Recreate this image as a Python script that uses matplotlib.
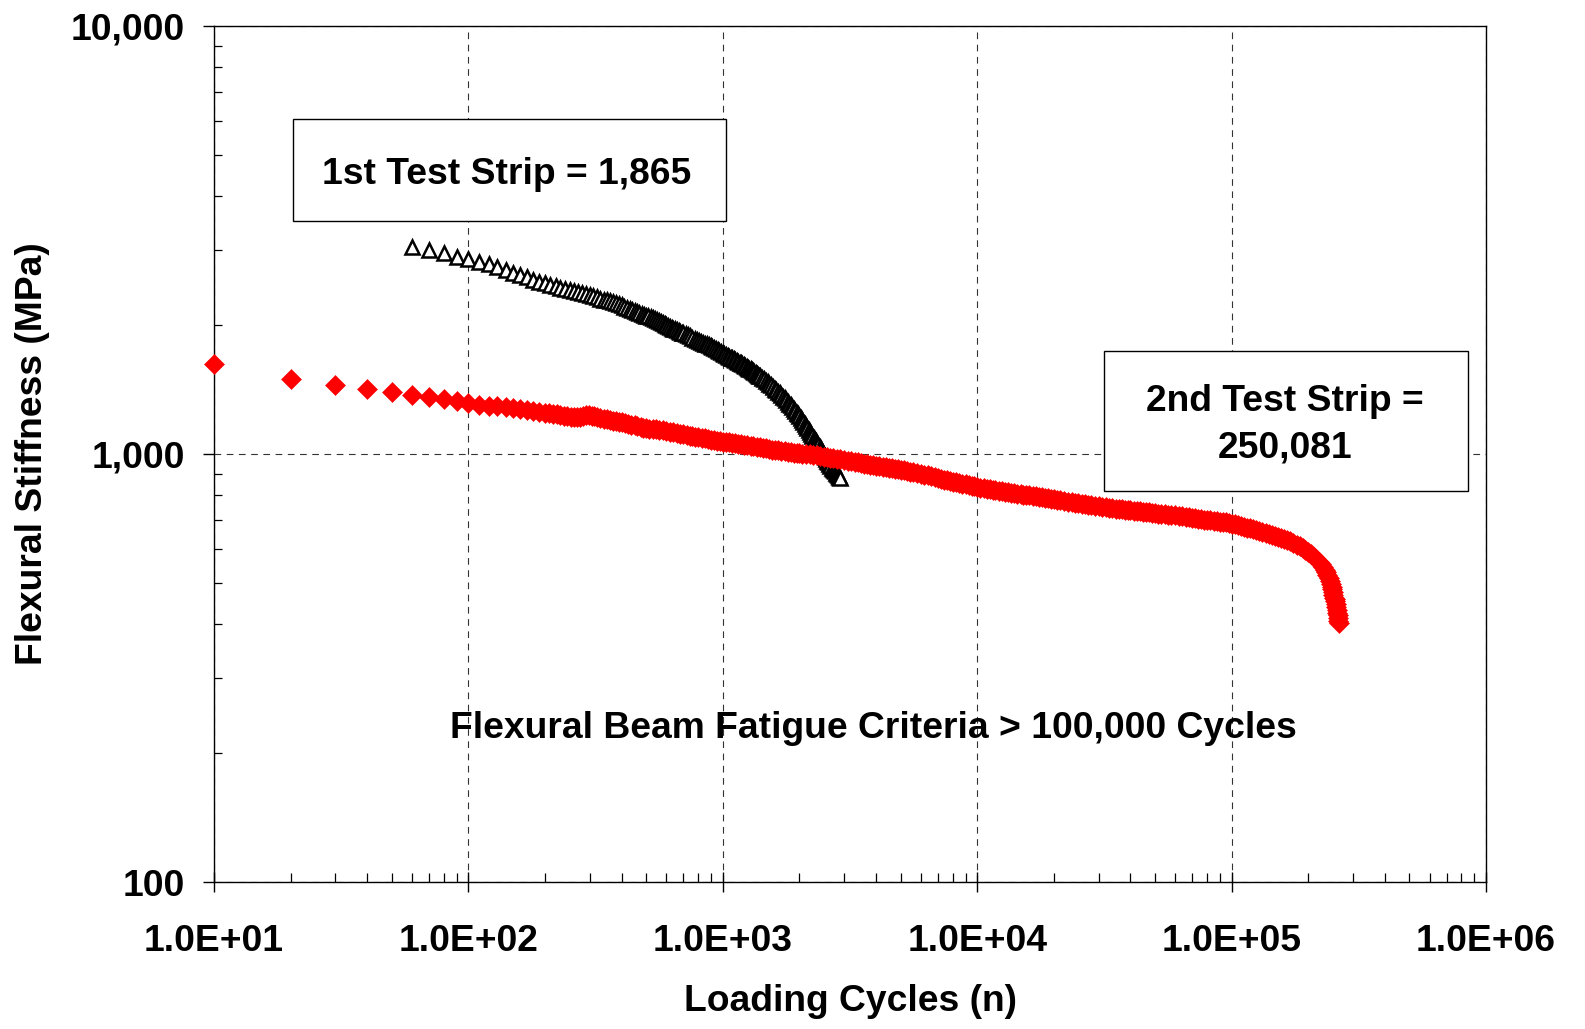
import matplotlib
matplotlib.use("Agg")
import matplotlib.pyplot as plt
from matplotlib.ticker import FuncFormatter, NullFormatter, LogLocator, FixedLocator
from matplotlib.patches import Rectangle

plt.rcParams['font.family'] = ['Liberation Sans', 'DejaVu Sans']
plt.rcParams['font.weight'] = 'bold'

# ---------------- data ----------------
strip1_cycles = [
    60, 70, 80, 90, 100, 110, 120, 130, 140, 150,
    160, 170, 180, 190, 200, 210, 220, 230, 240, 250,
    260, 270, 280, 290, 300, 310, 320, 330, 340, 350,
    360, 370, 380, 390, 400, 410, 420, 430, 440, 450,
    460, 470, 480, 490, 500, 510, 520, 530, 540, 550,
    560, 570, 580, 590, 600, 610, 620, 630, 640, 650,
    660, 670, 680, 690, 700, 715, 730, 745, 760, 775,
    790, 805, 820, 835, 850, 865, 880, 895, 910, 925,
    940, 955, 970, 985, 1000, 1015, 1030, 1045, 1060, 1075,
    1090, 1105, 1120, 1135, 1150, 1165, 1180, 1195, 1210, 1225,
    1240, 1255, 1270, 1285, 1300, 1315, 1330, 1345, 1360, 1375,
    1390, 1400, 1425, 1450, 1475, 1500, 1525, 1550, 1575, 1600,
    1625, 1650, 1675, 1700, 1725, 1750, 1775, 1800, 1825, 1850,
    1875, 1900, 1925, 1950, 1975, 2000, 2025, 2050, 2075, 2100,
    2125, 2150, 2175, 2200, 2225, 2250, 2275, 2300, 2325, 2350,
    2375, 2400, 2425, 2450, 2475, 2500, 2525, 2550, 2575, 2600,
    2625, 2650, 2675, 2700, 2725, 2750, 2775, 2800, 2825, 2850,
    2875, 2900]
strip1_stiffness = [
    3050, 2998, 2944, 2891, 2850, 2809, 2775, 2735, 2695, 2655,
    2620, 2585, 2550, 2528, 2508, 2488, 2468, 2448, 2428, 2415,
    2402, 2389, 2376, 2363, 2350, 2338, 2324, 2308, 2296, 2284,
    2272, 2260, 2248, 2236, 2224, 2210, 2196, 2184, 2172, 2161,
    2150, 2139, 2128, 2117, 2106, 2096, 2085, 2075, 2064, 2054,
    2044, 2034, 2024, 2014, 2004, 1993, 1982, 1971, 1962, 1954,
    1945, 1937, 1930, 1922, 1915, 1904, 1893, 1882, 1871, 1861,
    1851, 1841, 1831, 1821, 1812, 1803, 1794, 1785, 1777, 1768,
    1760, 1751, 1742, 1731, 1719, 1711, 1703, 1696, 1688, 1680,
    1673, 1665, 1658, 1650, 1643, 1635, 1628, 1620, 1613, 1606,
    1599, 1592, 1584, 1577, 1570, 1562, 1554, 1546, 1539, 1532,
    1525, 1520, 1508, 1495, 1483, 1471, 1458, 1446, 1434, 1422,
    1409, 1397, 1385, 1373, 1360, 1348, 1336, 1324, 1311, 1299,
    1287, 1275, 1262, 1250, 1237, 1225, 1212, 1200, 1187, 1174,
    1162, 1150, 1138, 1126, 1114, 1103, 1092, 1081, 1070, 1059,
    1048, 1037, 1026, 1015, 1003, 992, 982, 973, 964, 956,
    947, 938, 929, 921, 916, 911, 905, 900, 895, 890,
    885, 880]

strip2_cycles = [
    10, 20, 30, 40, 50, 60, 70, 80, 90, 100,
    110, 120, 130, 140, 150, 160, 170, 180, 190, 200,
    208, 215, 223, 230, 238, 245, 253, 260, 268, 275,
    283, 290, 298, 305, 313, 320, 330, 340, 350, 360,
    370, 380, 390, 400, 412, 425, 437, 450, 462, 475,
    487, 500, 515, 530, 545, 560, 580, 600, 620, 640,
    660, 680, 700, 720, 740, 760, 780, 800, 825, 850,
    875, 900, 925, 950, 975, 1000, 1030, 1060, 1090, 1120,
    1150, 1180, 1215, 1250, 1285, 1320, 1360, 1400, 1440, 1480,
    1520, 1560, 1600, 1650, 1700, 1750, 1800, 1850, 1900, 1950,
    2000, 2050, 2120, 2200, 2270, 2350, 2420, 2500, 2570, 2650,
    2720, 2800, 2900, 3000, 3100, 3200, 3300, 3400, 3500, 3600,
    3700, 3800, 3900, 4000, 4120, 4250, 4370, 4500, 4620, 4750,
    4870, 5000, 5150, 5300, 5450, 5600, 5800, 6000, 6200, 6400,
    6600, 6800, 7000, 7200, 7400, 7600, 7800, 8000, 8250, 8500,
    8750, 9000, 9250, 9500, 9750, 10000, 10300, 10600, 10900, 11200,
    11500, 11800, 12150, 12500, 12850, 13200, 13600, 14000, 14400, 14800,
    15200, 15600, 16000, 16500, 17000, 17500, 18000, 18500, 19000, 19500,
    20000, 20500, 21250, 22000, 22750, 23500, 24250, 25000, 25750, 26500,
    27250, 28000, 29000, 30000, 31000, 32000, 33000, 34000, 35000, 36000,
    37000, 38000, 39000, 40000, 41250, 42500, 43750, 45000, 46250, 47500,
    48750, 50000, 51500, 53000, 54500, 56000, 58000, 60000, 62000, 64000,
    66000, 68000, 70000, 72000, 74000, 76000, 78000, 80000, 82500, 85000,
    87500, 90000, 92500, 95000, 97500, 100000, 103000, 106000, 109000, 112000,
    115000, 118000, 121500, 125000, 128500, 132000, 136000, 140000, 144000, 148000,
    152000, 156000, 160500, 165000, 170000, 175000, 180000, 185000, 190000, 195000,
    200000, 205000, 210000, 215000, 220000, 225000, 228500, 232000, 235000, 238000,
    240500, 243000, 245000, 247000, 248500, 250000, 251500, 253000, 254500, 256000,
    257000, 258000, 259000, 260000, 261000, 262000, 263000, 263800]
strip2_stiffness = [
    1626, 1500, 1452, 1420, 1397, 1375, 1360, 1342, 1328, 1314,
    1305, 1298, 1292, 1286, 1279, 1272, 1266, 1261, 1256, 1250,
    1246, 1242, 1238, 1234, 1230, 1226, 1222, 1219, 1219, 1222,
    1227, 1231, 1232, 1230, 1225, 1220, 1214, 1208, 1204, 1200,
    1196, 1192, 1188, 1185, 1180, 1176, 1171, 1166, 1161, 1156,
    1153, 1150, 1147, 1145, 1142, 1140, 1136, 1132, 1128, 1124,
    1120, 1116, 1112, 1108, 1104, 1100, 1097, 1094, 1091, 1088,
    1084, 1081, 1078, 1075, 1072, 1069, 1066, 1064, 1061, 1059,
    1056, 1054, 1051, 1049, 1046, 1043, 1040, 1037, 1034, 1031,
    1027, 1024, 1022, 1020, 1017, 1015, 1012, 1010, 1008, 1006,
    1004, 1002, 1000, 998, 995, 992, 989, 986, 983, 980,
    977, 975, 971, 968, 965, 962, 959, 956, 953, 950,
    947, 945, 942, 940, 937, 934, 931, 929, 926, 924,
    921, 919, 916, 913, 910, 907, 903, 899, 895, 891,
    887, 883, 879, 875, 871, 868, 865, 862, 858, 855,
    852, 849, 846, 843, 840, 838, 835, 833, 830, 828,
    825, 823, 820, 818, 816, 814, 812, 810, 808, 806,
    804, 803, 801, 799, 797, 795, 793, 790, 788, 786,
    784, 782, 779, 777, 774, 772, 769, 767, 765, 763,
    761, 759, 756, 754, 752, 750, 748, 747, 745, 744,
    742, 741, 740, 739, 737, 736, 734, 733, 731, 730,
    729, 728, 726, 725, 723, 722, 721, 720, 718, 716,
    714, 712, 710, 708, 706, 705, 703, 702, 700, 698,
    696, 695, 693, 692, 690, 688, 685, 682, 679, 676,
    673, 670, 667, 664, 661, 658, 654, 651, 647, 644,
    640, 637, 633, 629, 625, 620, 614, 608, 603, 597,
    590, 583, 576, 568, 560, 552, 545, 537, 530, 522,
    514, 505, 498, 490, 483, 476, 469, 462, 458, 454,
    446, 438, 432, 426, 420, 414, 408, 403]

x_major_ticks = [1e1, 1e2, 1e3, 1e4, 1e5, 1e6]
y_major_ticks = [100, 1000, 10000]

label_box1 = "1st Test Strip = 1,865"
label_box2_line1 = "2nd Test Strip ="
label_box2_line2 = "250,081"
label_criteria = "Flexural Beam Fatigue Criteria > 100,000 Cycles"

# ---------------- figure ----------------
W, H = 1585, 1029
fig = plt.figure(figsize=(W / 100, H / 100), dpi=100)
ax = fig.add_axes([214 / W, 1 - 882 / H, (1486 - 214) / W, (882 - 26) / H])
ax.set_xscale('log')
ax.set_yscale('log')
ax.set_xlim(10, 1e6)
ax.set_ylim(100, 10000)

FS = 26.8

ax.plot(strip1_cycles, strip1_stiffness, linestyle='none', marker='^', ms=10.3,
        mfc='white', mec='black', mew=1.8, zorder=3, clip_on=False)
ax.plot(strip2_cycles, strip2_stiffness, linestyle='none', marker='D', ms=10.4,
        mfc='#ff0000', mec='#ff0000', mew=0.4, zorder=4, clip_on=False)

# ticks and grid
ax.xaxis.set_major_locator(FixedLocator(x_major_ticks))
ax.yaxis.set_major_locator(FixedLocator(y_major_ticks))
ax.xaxis.set_minor_locator(LogLocator(base=10, subs=range(2, 10)))
ax.yaxis.set_minor_locator(LogLocator(base=10, subs=range(2, 10)))
ax.xaxis.set_minor_formatter(NullFormatter())
ax.yaxis.set_minor_formatter(NullFormatter())
ax.xaxis.set_major_formatter(FuncFormatter(lambda v, p: f"{v:.1E}"))
ax.yaxis.set_major_formatter(FuncFormatter(lambda v, p: f"{v:,.0f}"))
ax.grid(True, which='major', color='#333333', linewidth=0.8, linestyle=(0, (6, 5)))
ax.set_axisbelow(True)

ax.tick_params(axis='x', which='major', direction='inout', length=15, width=1.0,
               pad=23, labelsize=FS, colors='black')
ax.tick_params(axis='x', which='minor', direction='in', length=6.5, width=0.9)
ax.tick_params(axis='y', which='major', direction='out', length=8, width=1.0,
               pad=13, labelsize=FS)
ax.tick_params(axis='y', which='minor', direction='in', length=6, width=0.9)
for lab in ax.get_xticklabels() + ax.get_yticklabels():
    lab.set_fontweight('bold')

for s in ax.spines.values():
    s.set_linewidth(1.0)
    s.set_color('black')

ax.set_xlabel("Loading Cycles (n)", fontsize=FS, fontweight='bold', labelpad=18)
ax.set_ylabel("Flexural Stiffness (MPa)", fontsize=FS, fontweight='bold', labelpad=15)

# annotation boxes
r1 = Rectangle((0.0619, 0.7725), 0.4023 - 0.0619, 0.891 - 0.7725, transform=ax.transAxes,
               facecolor='white', edgecolor='black', linewidth=1.0, zorder=5)
ax.add_patch(r1)
ax.text(0.2301, 0.816, label_box1, transform=ax.transAxes, ha='center', va='baseline',
        fontsize=FS, fontweight='bold', zorder=6)

r2 = Rectangle((0.700, 0.4571), 0.9856 - 0.700, 0.6207 - 0.4571, transform=ax.transAxes,
               facecolor='white', edgecolor='black', linewidth=1.0, zorder=5)
ax.add_patch(r2)
ax.text(0.842, 0.5506, label_box2_line1, transform=ax.transAxes, ha='center', va='baseline',
        fontsize=FS, fontweight='bold', zorder=6)
ax.text(0.842, 0.4961, label_box2_line2, transform=ax.transAxes, ha='center', va='baseline',
        fontsize=FS, fontweight='bold', zorder=6)

ax.text(0.518, 0.1682, label_criteria, transform=ax.transAxes, ha='center', va='baseline',
        fontsize=FS, fontweight='bold', zorder=6)

fig.savefig("out.png", dpi=100, facecolor='white')
